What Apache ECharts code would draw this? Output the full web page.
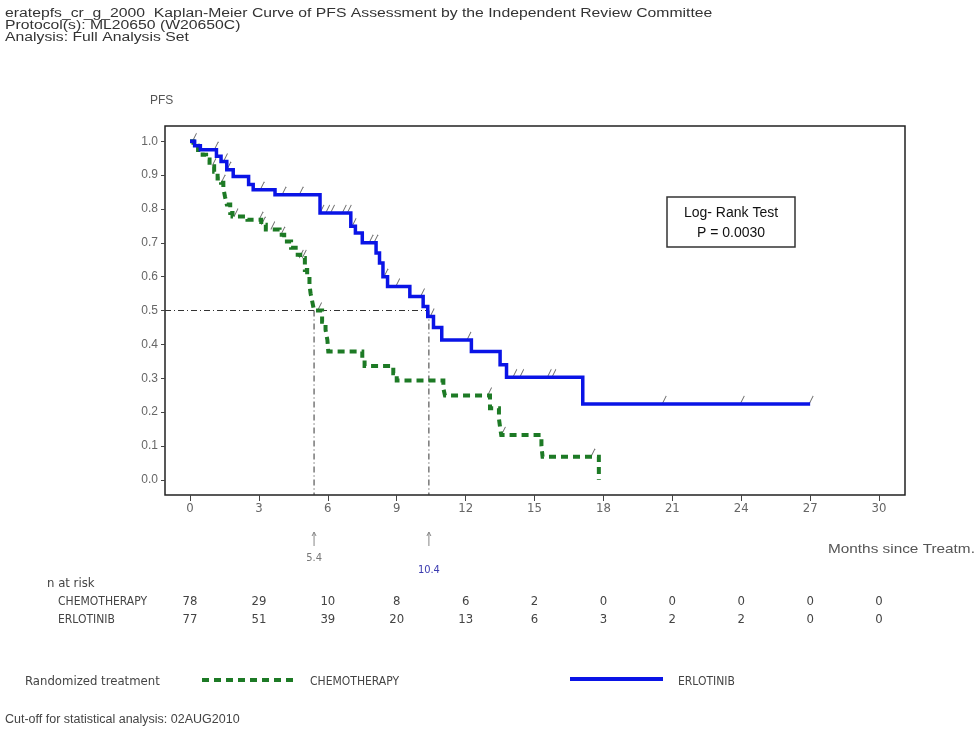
<!DOCTYPE html>
<html>
<head>
<meta charset="utf-8">
<script src="https://cdn.jsdelivr.net/npm/echarts@6/dist/echarts.min.js"></script>
<style>
html,body{margin:0;padding:0;background:#fff;}
#c{width:977px;height:731px;}
</style>
</head>
<body>
<div id="c"></div>
<script>
// ---------- data ----------
const titleLines = [
  'eratepfs_cr_g_2000  Kaplan-Meier Curve of PFS Assessment by the Independent Review Committee',
  'Protocol(s): ML20650 (W20650C)',
  'Analysis: Full Analysis Set'
];
const xTicks = [0, 3, 6, 9, 12, 15, 18, 21, 24, 27, 30];
const yTicks = [0.0, 0.1, 0.2, 0.3, 0.4, 0.5, 0.6, 0.7, 0.8, 0.9, 1.0];

const erloTimes = [0, 0.2, 0.45, 1.15, 1.35, 1.6, 1.88, 2.55, 2.75, 3.7, 5.66, 7.0, 7.2, 7.5, 8.1, 8.25, 8.4, 8.6, 9.57, 10.15, 10.35, 10.6, 10.96, 12.25, 13.5, 13.78, 17.1];
const erloSurv  = [1.0, 0.987, 0.975, 0.956, 0.94, 0.916, 0.896, 0.872, 0.857, 0.842, 0.788, 0.749, 0.729, 0.70, 0.67, 0.64, 0.60, 0.571, 0.541, 0.512, 0.482, 0.45, 0.413, 0.379, 0.34, 0.303, 0.224];
const erloEnd = 27.0;
const erloCensor = [0.15, 1.1, 1.5, 1.65, 3.1, 4.05, 4.8, 5.7, 5.95, 6.16, 6.67, 6.89, 7.1, 7.84, 8.05, 8.49, 9.0, 10.08, 10.5, 12.1, 14.1, 14.4, 15.6, 15.8, 20.6, 24.0, 27.0];

const chemoTimes = [0, 0.15, 0.35, 0.55, 0.7, 0.85, 1.05, 1.2, 1.35, 1.45, 1.52, 1.6, 1.75, 1.85, 2.5, 3.1, 3.3, 3.9, 4.1, 4.4, 4.6, 4.8, 5.0, 5.1, 5.2, 5.25, 5.32, 5.4, 5.75, 5.9, 5.98, 6.02, 7.5, 7.6, 8.85, 9.0, 11.03, 11.1, 13.06, 13.45, 13.5, 13.55, 15.3, 15.35, 17.8];
const chemoSurv  = [1.0, 0.987, 0.974, 0.96, 0.946, 0.926, 0.91, 0.89, 0.877, 0.862, 0.837, 0.813, 0.788, 0.778, 0.768, 0.753, 0.739, 0.724, 0.704, 0.685, 0.665, 0.655, 0.62, 0.60, 0.576, 0.55, 0.527, 0.50, 0.467, 0.443, 0.413, 0.379, 0.359, 0.336, 0.315, 0.293, 0.27, 0.249, 0.211, 0.18, 0.155, 0.132, 0.10, 0.068, 0.0];
const chemoEnd = 17.8;
const chemoCensor = [1.0, 1.4, 1.96, 3.05, 3.15, 3.56, 4.0, 4.8, 4.93, 5.6, 13.0, 13.6, 17.5];

const medians = [5.4, 10.4];
const medianLabels = ['5.4', '10.4'];

const riskChemo = [78, 29, 10, 8, 6, 2, 0, 0, 0, 0, 0];
const riskErlo  = [77, 51, 39, 20, 13, 6, 3, 2, 2, 0, 0];

// ---------- helpers ----------
function stepPoints(times, surv, end) {
  const pts = [[times[0], surv[0]]];
  for (let i = 1; i < times.length; i++) {
    pts.push([times[i], surv[i - 1]]);
    pts.push([times[i], surv[i]]);
  }
  if (end > times[times.length - 1]) pts.push([end, surv[surv.length - 1]]);
  return pts;
}
function survAt(times, surv, t) {
  let s = surv[0];
  for (let i = 0; i < times.length; i++) { if (times[i] <= t) s = surv[i]; }
  return s;
}

const XMIN = -1.09, XMAX = 31.13, YMIN = -0.045, YMAX = 1.045;
const GREEN = '#1d7a25';
const BLUE = '#0a14e6';
const NARROW = '"DejaVu Sans Condensed","Liberation Sans Narrow","Liberation Sans",sans-serif';
const SANS = '"Liberation Sans",Arial,sans-serif';
const tickSym = 'path://M0,10L5,0';

const chart = echarts.init(document.getElementById('c'), null, {renderer: 'canvas'});

const option = {
  animation: false,
  backgroundColor: '#fff',
  grid: {left: 165, top: 126, width: 740, height: 369, show: true, borderColor: '#222', borderWidth: 1.5, backgroundColor: 'transparent'},
  xAxis: {
    type: 'value', min: XMIN, max: XMAX,
    axisLine: {show: false, onZero: false},
    splitLine: {show: false},
    axisTick: {show: true, customValues: xTicks, length: 6, lineStyle: {color: '#444'}},
    axisLabel: {customValues: xTicks, margin: 7, color: '#666', fontSize: 13, fontFamily: NARROW}
  },
  yAxis: {
    type: 'value', min: YMIN, max: YMAX,
    axisLine: {show: false, onZero: false},
    splitLine: {show: false},
    axisTick: {show: true, customValues: yTicks, length: 4, lineStyle: {color: '#444'}},
    axisLabel: {customValues: yTicks, margin: 7, color: '#666', fontSize: 12, fontFamily: SANS,
      formatter: v => Number(v).toFixed(1)}
  },
  series: [
    {
      type: 'line', data: [[XMIN, 0.5], [medians[1], 0.5]], symbol: 'none', silent: true,
      lineStyle: {color: '#333', width: 1, type: [6, 3, 1, 3]}
    },
    ...medians.map(m => ({
      type: 'line', data: [[m, 0.5], [m, YMIN]], symbol: 'none', silent: true,
      lineStyle: {color: '#333', width: 1, type: [6, 3, 1, 3]}
    })),
    {
      name: 'CHEMOTHERAPY', type: 'line', data: stepPoints(chemoTimes, chemoSurv, chemoEnd),
      symbol: 'none', lineStyle: {color: GREEN, width: 4, type: [7, 5], cap: 'butt', join: 'miter'}
    },
    {
      name: 'ERLOTINIB', type: 'line', data: stepPoints(erloTimes, erloSurv, erloEnd),
      symbol: 'none', lineStyle: {color: BLUE, width: 3.5, cap: 'butt', join: 'miter'}
    },
    {
      type: 'scatter', data: chemoCensor.map(t => [t, survAt(chemoTimes, chemoSurv, t)]),
      symbol: tickSym, symbolSize: [4, 8], symbolOffset: [1, -4],
      itemStyle: {color: 'transparent', borderColor: '#444', borderWidth: 1}
    },
    {
      type: 'scatter', data: erloCensor.map(t => [t, survAt(erloTimes, erloSurv, t)]),
      symbol: tickSym, symbolSize: [4, 8], symbolOffset: [1, -4],
      itemStyle: {color: 'transparent', borderColor: '#444', borderWidth: 1}
    }
  ]
};
chart.setOption(option);

// ---------- annotations ----------
const g = [];
titleLines.forEach((s, i) => g.push({type: 'text', x: 5, y: 14 + i * 12, scaleX: 1.26,
  style: {text: s, font: '12.5px ' + SANS, fill: '#333', textVerticalAlign: 'middle'}}));

g.push({type: 'text', x: 150, y: 101, style: {text: 'PFS', font: '12px ' + SANS, fill: '#555', textVerticalAlign: 'middle'}});

g.push({type: 'rect', shape: {x: 667, y: 197, width: 128, height: 50},
  style: {fill: '#fff', stroke: '#333', lineWidth: 1.5}, z: 10});
g.push({type: 'text', x: 731, y: 213, z: 11, style: {text: 'Log- Rank Test', font: '14px ' + SANS, fill: '#111', textAlign: 'center', textVerticalAlign: 'middle'}});
g.push({type: 'text', x: 731, y: 233, z: 11, style: {text: 'P = 0.0030', font: '14px ' + SANS, fill: '#111', textAlign: 'center', textVerticalAlign: 'middle'}});

medians.forEach((m, i) => {
  const px = chart.convertToPixel({gridIndex: 0}, [m, 0])[0];
  g.push({type: 'line', shape: {x1: px, y1: 532, x2: px, y2: 546}, style: {stroke: '#888', lineWidth: 1}});
  g.push({type: 'polyline', shape: {points: [[px - 2, 536], [px, 532], [px + 2, 536]]}, style: {stroke: '#888', lineWidth: 1, fill: null}});
  g.push({type: 'text', x: px, y: i === 0 ? 558 : 570, style: {text: medianLabels[i], font: '11px ' + NARROW,
    fill: i === 0 ? '#777' : '#3b3bb0', textAlign: 'center', textVerticalAlign: 'middle'}});
});

g.push({type: 'text', x: 828, y: 549, scaleX: 1.18, style: {text: 'Months since Treatm.', font: '13px ' + SANS, fill: '#555', textVerticalAlign: 'middle'}});

g.push({type: 'text', x: 47, y: 584, style: {text: 'n at risk', font: '13px ' + NARROW, fill: '#444', textVerticalAlign: 'middle'}});
g.push({type: 'text', x: 58, y: 602, style: {text: 'CHEMOTHERAPY', font: '12px ' + NARROW, fill: '#444', textVerticalAlign: 'middle'}});
g.push({type: 'text', x: 58, y: 620, style: {text: 'ERLOTINIB', font: '12px ' + NARROW, fill: '#444', textVerticalAlign: 'middle'}});
xTicks.forEach((t, i) => {
  const px = chart.convertToPixel({gridIndex: 0}, [t, 0])[0];
  g.push({type: 'text', x: px, y: 602, style: {text: String(riskChemo[i]), font: '13px ' + NARROW, fill: '#444', textAlign: 'center', textVerticalAlign: 'middle'}});
  g.push({type: 'text', x: px, y: 620, style: {text: String(riskErlo[i]), font: '13px ' + NARROW, fill: '#444', textAlign: 'center', textVerticalAlign: 'middle'}});
});

g.push({type: 'text', x: 25, y: 682, style: {text: 'Randomized treatment', font: '13px ' + NARROW, fill: '#444', textVerticalAlign: 'middle'}});
g.push({type: 'line', shape: {x1: 202, y1: 680, x2: 297, y2: 680}, style: {stroke: GREEN, lineWidth: 4, lineDash: [7, 5]}});
g.push({type: 'text', x: 310, y: 682, style: {text: 'CHEMOTHERAPY', font: '12px ' + NARROW, fill: '#444', textVerticalAlign: 'middle'}});
g.push({type: 'line', shape: {x1: 570, y1: 679, x2: 663, y2: 679}, style: {stroke: BLUE, lineWidth: 4}});
g.push({type: 'text', x: 678, y: 682, style: {text: 'ERLOTINIB', font: '12px ' + NARROW, fill: '#444', textVerticalAlign: 'middle'}});

g.push({type: 'text', x: 5, y: 720, style: {text: 'Cut-off for statistical analysis: 02AUG2010', font: '12.5px ' + SANS, fill: '#444', textVerticalAlign: 'middle'}});

chart.setOption({graphic: {elements: g}});
</script>
</body>
</html>
